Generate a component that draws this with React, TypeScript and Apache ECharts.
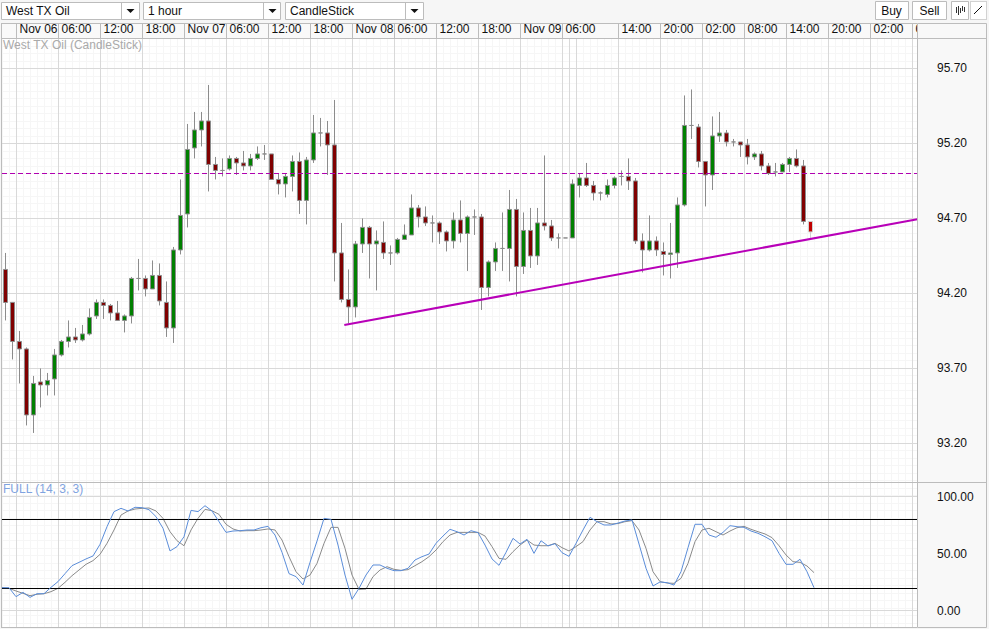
import React, { useEffect, useRef } from "react";
import * as echarts from "echarts";

const opens = [94.36,94.14,93.88,93.83,93.39,93.61,93.59,93.63,93.79,93.88,93.91,93.89,93.93,94.05,94.14,94.12,94.07,94.02,94.05,94.30,
94.30,94.23,94.32,94.14,93.97,94.49,94.73,95.17,95.29,95.35,95.06,95.02,95.03,95.10,95.07,95.05,95.10,95.13,95.13,94.96,
94.93,94.98,95.08,94.82,95.09,95.27,95.27,95.19,94.47,94.16,94.11,94.53,94.64,94.53,94.54,94.47,94.47,94.56,94.59,94.77,
94.71,94.67,94.67,94.61,94.55,94.69,94.60,94.71,94.71,94.24,94.41,94.50,94.50,94.76,94.38,94.62,94.45,94.67,94.65,94.57,
94.57,94.57,94.92,94.97,94.92,94.87,94.86,94.92,94.98,94.98,94.95,94.55,94.49,94.55,94.48,94.46,94.47,94.79,95.32,95.31,
95.08,94.99,95.25,95.27,95.21,95.21,95.19,95.11,95.13,95.05,95.01,95.01,95.06,95.10,95.05,94.68];
const closes = [94.14,93.88,93.83,93.39,93.60,93.59,93.62,93.79,93.88,93.91,93.89,93.93,94.04,94.14,94.12,94.07,94.02,94.05,94.30,94.30,
94.23,94.32,94.15,93.97,94.49,94.72,95.16,95.29,95.35,95.06,95.02,95.02,95.10,95.07,95.05,95.10,95.13,95.13,94.96,94.93,
94.98,95.08,94.82,95.09,95.27,95.27,95.19,94.47,94.16,94.11,94.53,94.64,94.53,94.55,94.47,94.47,94.56,94.59,94.77,94.71,
94.67,94.67,94.61,94.55,94.69,94.60,94.71,94.71,94.24,94.41,94.50,94.50,94.76,94.38,94.62,94.45,94.67,94.65,94.57,94.57,
94.57,94.93,94.97,94.92,94.87,94.87,94.92,94.97,94.98,94.95,94.55,94.49,94.55,94.49,94.46,94.47,94.79,95.32,95.32,95.08,
94.99,95.25,95.27,95.21,95.21,95.19,95.11,95.13,95.05,95.00,95.01,95.06,95.10,95.05,94.68,94.61];
const lows = [94.02,93.76,93.60,93.32,93.27,93.44,93.52,93.52,93.78,93.84,93.87,93.88,93.92,94.03,94.03,94.02,94.02,93.94,94.00,94.22,
94.18,94.23,94.12,93.91,93.87,94.46,94.64,95.10,95.18,94.88,94.96,94.98,95.02,94.99,95.02,95.02,95.09,95.09,94.96,94.86,
94.84,94.88,94.73,94.66,95.07,95.18,94.99,94.28,94.14,94.00,94.04,94.47,94.30,94.22,94.43,94.39,94.46,94.56,94.59,94.64,
94.65,94.54,94.53,94.48,94.50,94.54,94.35,94.59,94.09,94.18,94.35,94.35,94.28,94.18,94.33,94.37,94.39,94.62,94.55,94.50,
94.57,94.57,94.84,94.91,94.82,94.82,94.84,94.90,94.92,94.89,94.53,94.34,94.48,94.45,94.32,94.30,94.37,94.78,95.23,95.04,
94.78,94.89,95.21,95.18,95.18,95.11,95.06,95.09,95.02,94.99,94.98,95.01,95.01,95.04,94.66,94.57];
const highs = [94.47,94.14,93.95,93.84,93.65,93.70,93.67,93.83,93.89,94.02,93.97,93.99,94.10,94.16,94.16,94.13,94.15,94.06,94.31,94.43,
94.32,94.42,94.40,94.28,94.51,94.96,95.33,95.41,95.41,95.59,95.11,95.10,95.12,95.11,95.15,95.13,95.18,95.19,95.13,95.00,
95.00,95.12,95.14,95.11,95.39,95.37,95.35,95.49,94.67,94.36,94.55,94.70,94.65,94.62,94.68,94.52,94.57,94.66,94.86,94.79,
94.78,94.72,94.68,94.62,94.74,94.82,94.72,94.76,94.73,94.42,94.54,94.74,94.89,94.83,94.74,94.77,94.77,95.12,94.69,94.60,
94.57,94.96,95.00,95.07,94.95,94.88,94.96,94.98,95.02,95.10,94.97,94.60,94.72,94.58,94.54,94.67,94.84,95.52,95.56,95.33,
95.08,95.38,95.41,95.29,95.23,95.21,95.23,95.14,95.15,95.07,95.07,95.07,95.11,95.16,95.09,94.68];

const kValues = [20.2,20.2,12.3,16.1,11.7,14.9,14.9,20.5,25.5,32.5,39.5,42.4,45.4,48,58.2,73.7,86.9,89.8,87.5,90.7,
90.4,88.6,82.5,72.3,52.4,56.2,64.9,88,86.9,92.1,87.5,78.1,68.7,69.9,70.2,70.8,70.8,72.8,74,66.4,
51.2,32.5,29.9,22.5,42.4,61.1,81,80.1,57.6,31.3,10,19.6,31.3,40.1,40.1,37.2,35.1,35.1,37.2,44.5,
47.4,49.7,59.1,65.5,71.4,69.3,66.4,70.2,68.5,57.6,45.4,39.8,51.2,63.5,58.5,62.6,50.3,61.4,56.8,58.8,
50.9,47.7,59.1,70.8,81.9,78.1,75.2,75.2,76.9,78.7,79.6,58.5,37.2,21.7,25.2,24.6,22.5,34.2,55.3,75.8,
75.8,66.4,64.4,68.7,74.6,73.7,73.1,69.9,67.9,64.9,61.4,50.3,40.7,40.7,45.1,34.2,20.2];
const dValues = [20.2,19.6,17.3,15.2,13.2,14.4,14.9,16.7,19.6,24.9,30.7,35.7,40.7,43.9,49.4,59.1,70.8,83.9,87.5,89.2,
89.8,90.1,87.5,81,69.3,61.4,57,70.8,81,88.9,87.7,84.5,75.8,71.7,69.9,70.2,70.2,70.8,71.7,70.8,
62,47.4,34.2,27.8,31.3,41.5,59.1,73.1,73.1,54.7,31.3,18.7,19,29.9,35.7,38.6,36.3,35.4,36,39.5,
43,47.4,53.2,60.6,66.4,68.7,68.7,68.7,68.7,65.5,56.2,45.9,45.1,51.8,57.6,62,57.6,57,57,59.1,
55.3,52.4,56.2,60.6,70.8,78.1,78.1,76.1,76.4,78.1,79,70.8,54.7,34.2,25.5,24.3,24,28.4,41.5,60.6,
70.8,72.3,69.3,66.4,69.9,72.8,74,71.4,69.3,67.3,64.1,57,48.9,43,42.4,39.2,33.4];

const trendX = [48.9, 130.76];
const trendY = [93.99, 94.695];
const referencePrice = 95.0;
const stochLevels = [80, 20];

const timeTicks = [2,8,14,20,26,32,38,44,50,56,62,68,74,80,88,94,100,106,112,118,124,130];
const timeLabels = ["Nov 06","06:00","12:00","18:00","Nov 07","06:00","12:00","18:00","Nov 08","06:00","12:00","18:00","Nov 09","06:00","14:00","20:00","02:00","08:00","14:00","20:00","02:00","08:00"];
const extraGridTicks = [81, 82];
const priceTicks = [93.2, 93.7, 94.2, 94.7, 95.2, 95.7];
const stochLabels = [0, 50, 100];
const stochGridTicks = [0, 100];

const SLOTS = 131;
const MAJOR = "#d9d9d9";
const MINOR = "#f6f6f6";
const EDGE = "#bcbcbc";
const FONT = "Arial, 'Liberation Sans', sans-serif";

const categories = Array.from({ length: SLOTS }, (_, i) => {
  const at = timeTicks.indexOf(i);
  return at >= 0 ? timeLabels[at] : String(i);
});
const gridTicks = [...timeTicks, ...extraGridTicks];
const candleData = opens.map((o, i) => {
  const value = [o, closes[i], lows[i], highs[i]];
  return i === opens.length - 1
    ? { value, itemStyle: { color: "#c00000", color0: "#c00000", borderColor: "#d0d0d0", borderColor0: "#d0d0d0" } }
    : value;
});

const hidden = {
  axisLine: { show: false },
  axisTick: { show: false },
  axisLabel: { show: false },
  splitLine: { show: false },
};

function box(x: number, y: number, w: number, h: number, fill = "#fff", stroke = EDGE, z = 8) {
  return { type: "rect", z, silent: true, shape: { x: x + 0.5, y: y + 0.5, width: w, height: h }, style: { fill, stroke, lineWidth: 1 } };
}
function label(x: number, y: number, text: string, fill = "#111", align = "left", z = 9) {
  return { type: "text", z, silent: true, x, y, style: { text, fill, font: `12px ${FONT}`, align, verticalAlign: "middle" } };
}
function seg(x1: number, y1: number, x2: number, y2: number, stroke: string, z = 9) {
  return { type: "line", z, silent: true, shape: { x1, y1, x2, y2 }, style: { stroke, lineWidth: 1 } };
}
function arrow(cx: number, cy: number) {
  return { type: "polygon", z: 9, silent: true, shape: { points: [[cx - 4, cy - 2], [cx + 4, cy - 2], [cx, cy + 2]] }, style: { fill: "#111" } };
}

const graphics: any[] = [
  // price / time panel frames
  box(917, 23, 69, 604, "#f8f8f8", EDGE, 5),
  seg(917.5, 38.5, 986, 38.5, EDGE, 5),
  seg(917.5, 482.5, 986, 482.5, EDGE, 5),
  seg(1.5, 23, 1.5, 627, EDGE, 5),
  seg(1, 23.5, 917, 23.5, EDGE, 5),
  seg(1, 38.5, 917, 38.5, EDGE, 5),
  seg(1, 482.5, 917, 482.5, EDGE, 5),
  seg(1, 627.5, 917, 627.5, EDGE, 5),
  label(3, 45, "West TX Oil (CandleStick)", "#aaaaaa", "left", 5),
  label(3, 489, "FULL (14, 3, 3)", "#7fa3e0", "left", 5),
  // toolbar
  box(1, 2, 138, 17), seg(121.5, 2, 121.5, 19, EDGE), label(6, 11, "West TX Oil"), arrow(130.5, 11),
  box(143, 2, 137, 17), seg(263.5, 2, 263.5, 19, EDGE), label(148, 11, "1 hour"), arrow(272.5, 11),
  box(285, 2, 138, 17), seg(405.5, 2, 405.5, 19, EDGE), label(290, 11, "CandleStick"), arrow(414.5, 11),
  box(875, 1, 33, 18), label(891.5, 10.5, "Buy", "#111", "center"),
  box(912, 1, 34, 18), label(929.5, 10.5, "Sell", "#111", "center"),
  box(951, 1, 17, 18),
  seg(956.5, 7, 956.5, 13, "#333"), seg(958.5, 6, 958.5, 15, "#333"), seg(960.5, 8, 960.5, 13, "#333"),
  seg(962.5, 6, 962.5, 11, "#333"), seg(964.5, 7, 964.5, 12, "#333"),
  { ...box(970, 1, 16, 18), style: { fill: "#fff", stroke: "#aaa", lineWidth: 1, lineDash: [1, 1] } },
  seg(974, 14, 982, 6, "#111"),
];

const option: any = {
  animation: false,
  backgroundColor: "#f6f6f6",
  textStyle: { fontFamily: FONT },
  grid: [
    { left: 2, top: 38, width: 917, height: 444, show: false },
    { left: 2, top: 482, width: 917, height: 145, show: false },
    { left: 2, top: 38.5, width: 915, height: 589, show: true, backgroundColor: "#fff", borderWidth: 0 },
    { left: 2, top: 23, width: 915, height: 15, show: true, backgroundColor: "#f9f9f9", borderWidth: 0 },
  ],
  xAxis: [
    {
      type: "category", gridIndex: 0, position: "top", data: categories, z: 1,
      boundaryGap: true,
      axisLine: { show: false },
      axisTick: {
        show: true, length: 15, lineStyle: { color: EDGE },
        interval: (i: number) => timeTicks.includes(i),
      },
      axisLabel: {
        show: true, color: "#111", fontSize: 12, fontFamily: FONT, align: "left", margin: 3,
        interval: (i: number) => timeTicks.includes(i),
      },
      splitLine: {
        show: true, lineStyle: { color: MAJOR },
        interval: (i: number) => gridTicks.includes(i),
      },
    },
    { type: "value", gridIndex: 0, min: 0, max: SLOTS, ...hidden },
    {
      type: "value", gridIndex: 1, min: 0, max: SLOTS, z: 1,
      axisLine: { show: false },
      axisLabel: { show: false },
      axisTick: { show: false, customValues: gridTicks },
      splitLine: { show: true, lineStyle: { color: MAJOR } },
    },
    {
      type: "value", gridIndex: 2, min: 0, max: 915, interval: 7, z: 0,
      axisLine: { show: false }, axisTick: { show: false }, axisLabel: { show: false },
      splitLine: { show: true, lineStyle: { color: MINOR } },
    },
    { type: "value", gridIndex: 3, min: 0, max: 1, ...hidden },
  ],
  yAxis: [
    {
      type: "value", gridIndex: 0, min: 92.943, max: 95.903, z: 1,
      axisLine: { show: false },
      axisLabel: { show: false },
      axisTick: { show: false, customValues: priceTicks },
      splitLine: { show: true, lineStyle: { color: MAJOR } },
    },
    {
      type: "value", gridIndex: 0, min: 92.943, max: 95.903, position: "right", z: 6,
      axisLine: { show: false }, splitLine: { show: false },
      axisTick: { show: false, customValues: priceTicks },
      axisLabel: {
        show: true, customValues: priceTicks, color: "#111", fontSize: 12, fontFamily: FONT, margin: 18,
        padding: [3, 0, 0, 0],
        formatter: (v: number) => v.toFixed(2),
      },
    },
    {
      type: "value", gridIndex: 1, min: -14.3, max: 112.9, z: 1,
      axisLine: { show: false }, axisLabel: { show: false },
      axisTick: { show: false, customValues: stochGridTicks },
      splitLine: { show: true, lineStyle: { color: MAJOR } },
    },
    {
      type: "value", gridIndex: 1, min: -14.3, max: 112.9, position: "right", z: 6,
      axisLine: { show: false }, splitLine: { show: false },
      axisTick: { show: false, customValues: stochLabels },
      axisLabel: {
        show: true, customValues: stochLabels, color: "#111", fontSize: 12, fontFamily: FONT, margin: 18,
        padding: [2, 0, 0, 0],
        formatter: (v: number) => v.toFixed(2),
      },
    },
    {
      type: "value", gridIndex: 2, min: 0, max: 589.5, interval: 7.5, inverse: true, z: 0,
      axisLine: { show: false }, axisTick: { show: false }, axisLabel: { show: false },
      splitLine: { show: true, lineStyle: { color: MINOR } },
    },
    { type: "value", gridIndex: 3, min: 0, max: 1, ...hidden },
  ],
  series: [
    {
      type: "candlestick", xAxisIndex: 0, yAxisIndex: 0, barWidth: 5, data: candleData, z: 2,
      itemStyle: {
        color: "#008000", color0: "#800000", borderColor: "#8c8c8c", borderColor0: "#8c8c8c",
        borderColorDoji: "#8c8c8c", borderWidth: 1,
      },
      markLine: {
        silent: true, symbol: "none", z: 3, label: { show: false },
        lineStyle: { color: "#b000b0", width: 1, type: [5, 3] },
        data: [{ yAxis: referencePrice }],
      },
    },
    {
      type: "line", xAxisIndex: 1, yAxisIndex: 0, showSymbol: false, silent: true, z: 4,
      lineStyle: { color: "#b800b8", width: 2 },
      data: trendX.map((x, i) => [x, trendY[i]]),
    },
    {
      type: "line", xAxisIndex: 2, yAxisIndex: 2, showSymbol: false, silent: true, z: 2,
      lineStyle: { color: "#8a8a8a", width: 1 },
      data: dValues.map((v, i) => [i, v]),
    },
    {
      type: "line", xAxisIndex: 2, yAxisIndex: 2, showSymbol: false, silent: true, z: 3,
      lineStyle: { color: "#5b8dd9", width: 1 },
      data: kValues.map((v, i) => [i, v]),
      markLine: {
        silent: true, symbol: "none", z: 3, label: { show: false },
        lineStyle: { color: "#000", width: 1, type: "solid" },
        data: stochLevels.map((yAxis) => ({ yAxis })),
      },
    },
  ],
  graphic: { elements: graphics },
};

export default function App() {
  const ref = useRef<HTMLDivElement>(null);
  useEffect(() => {
    const chart = echarts.init(ref.current!, undefined, { renderer: "svg" });
    chart.setOption(option);
    return () => chart.dispose();
  }, []);
  return <div ref={ref} style={{ position: "fixed", left: 0, top: 0, width: 989, height: 629 }} />;
}
